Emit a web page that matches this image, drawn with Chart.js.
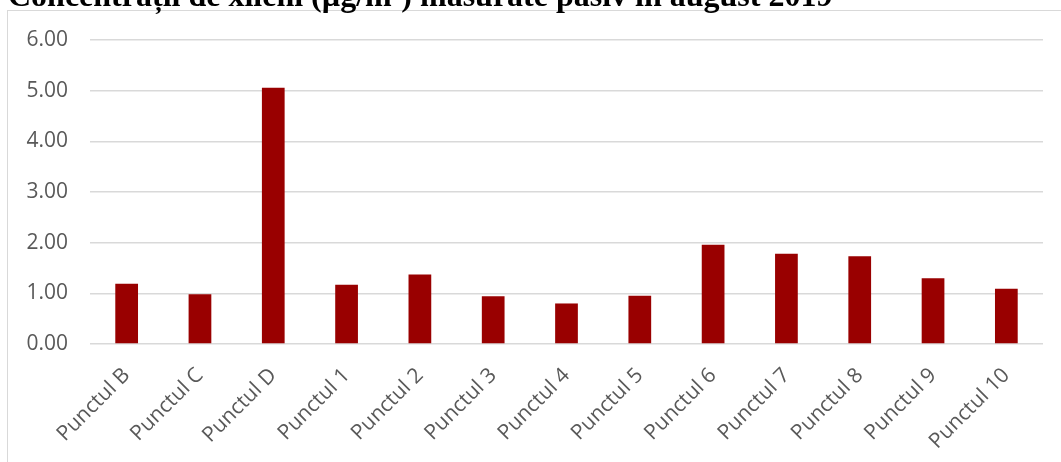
<!DOCTYPE html>
<html lang="ro">
<head>
    <meta charset="UTF-8">
    <title>Concentrații de xileni</title>
    <script src="https://cdn.jsdelivr.net/npm/chart.js"></script>
    <style>
        body {
            margin: 0;
            width: 1061px;
            height: 462px;
            overflow: hidden;
            background: #fff;
            position: relative;
        }
        /* Chart title, sits above the frame */
        #title {
            position: absolute;
            left: 8px;
            top: -21px;
            font-family: "Liberation Serif", "Times New Roman", serif;
            font-weight: bold;
            font-size: 32px;
            line-height: 32px;
            white-space: nowrap;
            color: #000;
            z-index: 2;
        }
        #frame {
            position: absolute;
            left: 7px;
            top: 10px;
            width: 1080px;
            height: 480px;
            border: 1.5px solid #d9d9d9;
        }
        #chart {
            position: absolute;
            left: 0;
            top: 0;
        }
    </style>
</head>
<body>
    <div id="title">Concentrații de xileni (µg/m³) măsurate pasiv în august 2019</div>
    <div id="frame"></div>
    <canvas id="chart" width="1061" height="462"></canvas>

    <script>
        // Monitoring points and measured xylene concentrations
        const puncte = ["Punctul B", "Punctul C", "Punctul D", "Punctul 1", "Punctul 2", "Punctul 3",
            "Punctul 4", "Punctul 5", "Punctul 6", "Punctul 7", "Punctul 8", "Punctul 9", "Punctul 10"];
        const concentratii = [1.19, 0.98, 5.06, 1.17, 1.37, 0.94, 0.80, 0.95, 1.96, 1.78, 1.73, 1.30, 1.09];
        const yTicks = [0, 1, 2, 3, 4, 5, 6];

        const tickFont = { family: "'Open Sans', sans-serif", size: 21 };

        new Chart(document.getElementById("chart"), {
            type: "bar",
            data: {
                labels: puncte,
                datasets: [{
                    data: concentratii,
                    backgroundColor: "#990000",
                    barPercentage: 0.31,
                    categoryPercentage: 1
                }]
            },
            options: {
                responsive: false,
                animation: false,
                devicePixelRatio: 1,
                layout: { padding: { top: 40, left: 7, right: 18, bottom: 0 } },
                plugins: {
                    legend: { display: false },
                    tooltip: { enabled: false }
                },
                scales: {
                    x: {
                        grid: { display: false },
                        border: { display: false },
                        ticks: {
                            font: tickFont,
                            color: "#595959",
                            minRotation: 45,
                            maxRotation: 45,
                            padding: 11
                        },
                        afterFit: scale => { scale.height = 118; }
                    },
                    y: {
                        min: yTicks[0],
                        max: yTicks[yTicks.length - 1],
                        afterBuildTicks: scale => {
                            scale.ticks = yTicks.map(v => ({ value: v }));
                        },
                        grid: { color: "#d9d9d9", lineWidth: 1.5, drawTicks: false },
                        border: { display: false },
                        ticks: {
                            font: tickFont,
                            color: "#595959",
                            padding: 22,
                            callback: v => Number(v).toFixed(2)
                        },
                        afterFit: scale => { scale.width = 83; }
                    }
                }
            }
        });
    </script>
</body>
</html>
